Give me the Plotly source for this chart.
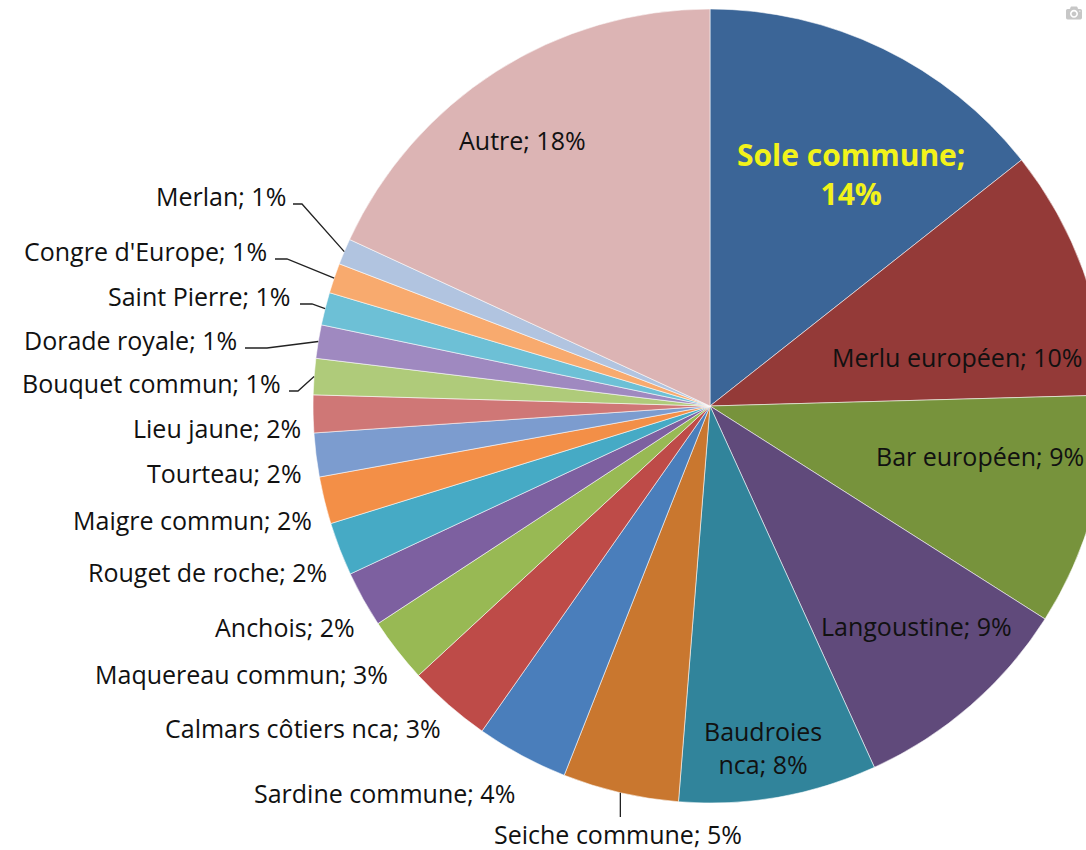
import math
import plotly.graph_objects as go

# ---------------- data ----------------
species = ["Sole commune", "Merlu européen", "Bar européen", "Langoustine", "Baudroies nca",
           "Seiche commune", "Sardine commune", "Calmars côtiers nca", "Maquereau commun",
           "Anchois", "Rouget de roche", "Maigre commun", "Tourteau", "Lieu jaune",
           "Bouquet commun", "Dorade royale", "Saint Pierre", "Congre d'Europe", "Merlan", "Autre"]
shares = [14.36, 10.2, 9.45, 9.19, 8.06, 4.72, 3.75, 3.39, 2.64, 2.28,
          2.17, 1.92, 1.78, 1.53, 1.47, 1.36, 1.33, 1.22, 1.06, 18.11]

# ---------------- style ----------------
colors = ["#3B6597", "#943A38", "#77933C", "#604A7B", "#31849B",
          "#C9772F", "#4A7EBB", "#BE4B48", "#98B954", "#7D60A0",
          "#46AAC5", "#F38F47", "#7C9CCF", "#CF7776", "#AFCB7A",
          "#9F89C0", "#6DC0D6", "#F8AA6E", "#B1C4E0", "#DCB4B4"]

W, H = 1120, 850           # figure wider than the window: the pie is cut at the right edge
CX, CY, R = 710, 406, 397  # pie centre / radius in pixels
FONT = "Open Sans"
FS = 25

# label placement (pixel x, pixel y, anchor)
label_pos = {
    "Sole commune": (851, 174, "center"),
    "Merlu européen": (1085, 357, "right"),
    "Bar européen": (1086, 456, "right"),
    "Langoustine": (1014, 626, "right"),
    "Baudroies nca": (763, 747, "center"),
    "Seiche commune": (618, 834, "center"),
    "Sardine commune": (517, 793, "right"),
    "Calmars côtiers nca": (443, 728, "right"),
    "Maquereau commun": (390, 674, "right"),
    "Anchois": (357, 627, "right"),
    "Rouget de roche": (329, 572, "right"),
    "Maigre commun": (314, 520, "right"),
    "Tourteau": (304, 473, "right"),
    "Lieu jaune": (303, 428, "right"),
    "Bouquet commun": (283, 383, "right"),
    "Dorade royale": (239, 340, "right"),
    "Saint Pierre": (293, 296, "right"),
    "Congre d'Europe": (269, 251, "right"),
    "Merlan": (288, 196, "right"),
    "Autre": (522, 140, "center"),
}
# elbow leader lines: (start x, elbow x) in pixels
leader_h = {
    "Bouquet commun": (289, 298),
    "Dorade royale": (245, 267),
    "Saint Pierre": (300, 312),
    "Congre d'Europe": (275, 287),
    "Merlan": (293, 302),
}


def px(x):
    return x / W


def py(y):
    return 1 - y / H


total = sum(shares)
pct = [round(s / total * 100) for s in shares]

fig = go.Figure(go.Pie(
    labels=species,
    values=shares,
    sort=False,
    direction="clockwise",
    rotation=0,
    marker=dict(colors=colors, line=dict(color="rgba(255,255,255,0.55)", width=1)),
    textinfo="none",
    hoverinfo="label+percent",
    showlegend=False,
    domain=dict(x=[px(CX - R), px(CX + R)], y=[py(CY + R), py(CY - R)]),
))

annotations = []
shapes = []
cum = 0.0
for name, s, p in zip(species, shares, pct):
    mid = (cum + s / 2) / total * 2 * math.pi
    cum += s
    rim_x = CX + R * math.sin(mid)
    rim_y = CY - R * math.cos(mid)
    lx, ly, anchor = label_pos[name]
    if name == "Sole commune":
        txt = f"<b>{name};<br>{p}%</b>"
        font = dict(family=FONT, size=30, color="#F2F21A")
    elif name == "Baudroies nca":
        txt = f"Baudroies<br>nca; {p}%"
        font = dict(family=FONT, size=FS, color="#111111")
    else:
        txt = f"{name}; {p}%"
        font = dict(family=FONT, size=FS, color="#111111")
    annotations.append(dict(x=px(lx), y=py(ly), xref="paper", yref="paper", text=txt,
                            showarrow=False, xanchor=anchor, yanchor="middle",
                            align="center", font=font))
    if name in leader_h:
        x0, x1 = leader_h[name]
        yl = ly + 8
        shapes.append(dict(type="path", xref="paper", yref="paper",
                           path=f"M {px(x0)} {py(yl)} L {px(x1)} {py(yl)} L {px(rim_x)} {py(rim_y)}",
                           line=dict(color="#222222", width=1.3)))
    if name == "Seiche commune":
        shapes.append(dict(type="line", xref="paper", yref="paper",
                           x0=px(rim_x), y0=py(rim_y), x1=px(rim_x), y1=py(ly - 17),
                           line=dict(color="#222222", width=1.3)))

fig.update_layout(
    width=W, height=H,
    margin=dict(l=0, r=0, t=0, b=0),
    paper_bgcolor="white",
    plot_bgcolor="white",
    annotations=annotations,
    shapes=shapes,
)

fig.write_html(
    "out.html",
    post_script="document.body.style.margin='0';document.body.style.overflow='hidden';"
                "document.documentElement.style.overflow='hidden';",
)
